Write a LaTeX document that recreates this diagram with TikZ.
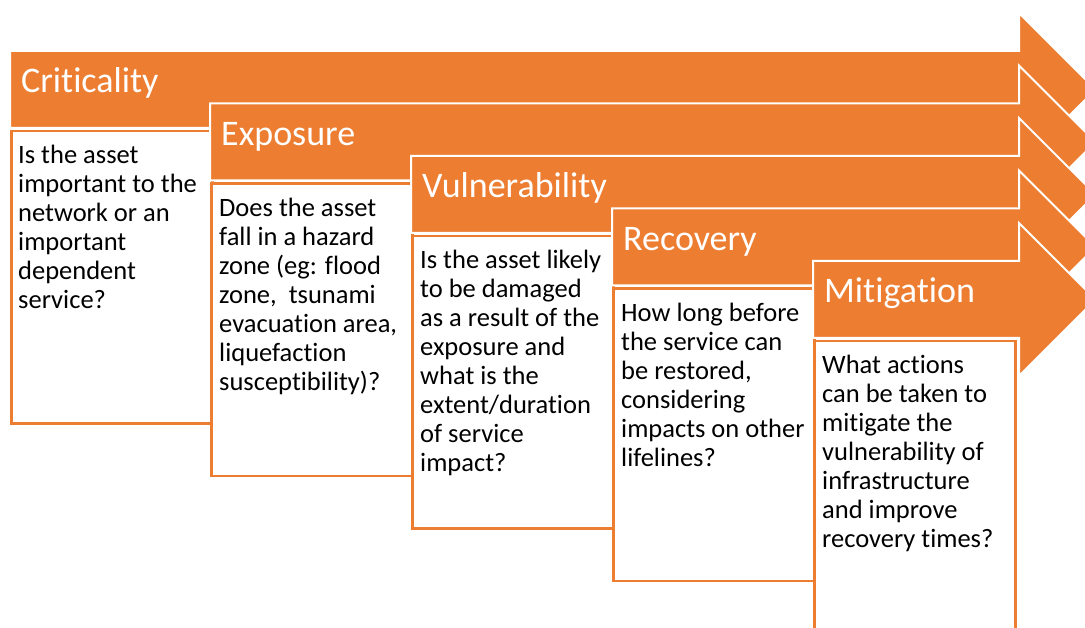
\documentclass[tikz,border=0pt]{standalone}
\usepackage{fontspec}
\setmainfont{Carlito}[Ligatures={NoCommon,NoContextual}, Contextuals={NoAlternate}, RawFeature={-rlig}]
\definecolor{stageorange}{RGB}{237, 125, 49}
\usetikzlibrary{positioning}
\tikzset{
  stagearrow/.style={fill=stageorange, draw=white, line width=2pt, line join=miter},
  stagetitle/.style={anchor=base west, text=white, inner sep=0pt, font=\fontsize{36}{40}\selectfont},
  stagebox/.style={draw=stageorange, fill=white, line width=2.5pt, anchor=north west, inner sep=0pt,
    minimum width=201pt, minimum height=292pt},
  boxtext/.style={inner sep=0pt, align=left, font=\fontsize{26.5}{29}\selectfont},
}

\begin{document}
\begin{tikzpicture}[x=1pt, y=-1pt]
  \useasboundingbox (0,0) rectangle (1085,628);
  \clip (0,0) rectangle (1085,628);

  % --- Criticality ---
  \begin{scope}
    \draw[stagearrow] (10,51) -- (1019,51) -- (1019,13) -- (1095.5,89.5) -- (1019,166) -- (1019,128) -- (10,128) -- cycle;
    \node[stagetitle] (crit) at (21,93) {Criticality};
    \node[stagebox] (critbox) at (10,130) {};
    \node[boxtext, below right=15pt and 8pt of critbox.north west] (crittext)
      {Is the asset\\important to the\\network or an\\important\\dependent\\service?};
  \end{scope}

  % --- Exposure ---
  \begin{scope}
    \draw[stagearrow] (210,103.5) -- (1019,103.5) -- (1019,65.5) -- (1095.5,142) -- (1019,218.5) -- (1019,180.5) -- (210,180.5) -- cycle;
    \node[stagetitle] (expo) at (221,145.5) {Exposure};
    \node[stagebox] (expobox) at (210,182.5) {};
    \node[boxtext, below right=15pt and 9pt of expobox.north west] (expotext)
      {Does the asset\\fall in a hazard\\zone (eg: flood\\zone,\ \ tsunami\\evacuation area,\\liquefaction\\susceptibility)?};
  \end{scope}

  % --- Vulnerability ---
  \begin{scope}
    \draw[stagearrow] (411,156) -- (1019,156) -- (1019,118) -- (1095.5,194.5) -- (1019,271) -- (1019,233) -- (411,233) -- cycle;
    \node[stagetitle] (vuln) at (422,198) {Vulnerability};
    \node[stagebox] (vulnbox) at (411,235) {};
    \node[boxtext, below right=15pt and 9pt of vulnbox.north west] (vulntext)
      {Is the asset likely\\to be damaged\\as a result of the\\exposure and\\what is the\\extent/duration\\of service\\impact?};
  \end{scope}

  % --- Recovery ---
  \begin{scope}
    \draw[stagearrow] (612,208.5) -- (1019,208.5) -- (1019,170.5) -- (1095.5,247) -- (1019,323.5) -- (1019,285.5) -- (612,285.5) -- cycle;
    \node[stagetitle] (reco) at (623,250.5) {Recovery};
    \node[stagebox] (recobox) at (612,287.5) {};
    \node[boxtext, below right=15pt and 9pt of recobox.north west] (recotext)
      {How long before\\the service can\\be restored,\\considering\\impacts on other\\lifelines?};
  \end{scope}

  % --- Mitigation ---
  \begin{scope}
    \draw[stagearrow] (813,261) -- (1019,261) -- (1019,223) -- (1095.5,299.5) -- (1019,376) -- (1019,338) -- (813,338) -- cycle;
    \node[stagetitle] (miti) at (824,303) {Mitigation};
    \node[stagebox] (mitibox) at (813,340) {};
    \node[boxtext, below right=15pt and 9pt of mitibox.north west] (mititext)
      {What actions\\can be taken to\\mitigate the\\vulnerability of\\infrastructure\\and improve\\recovery times?};
  \end{scope}
\end{tikzpicture}
\end{document}
